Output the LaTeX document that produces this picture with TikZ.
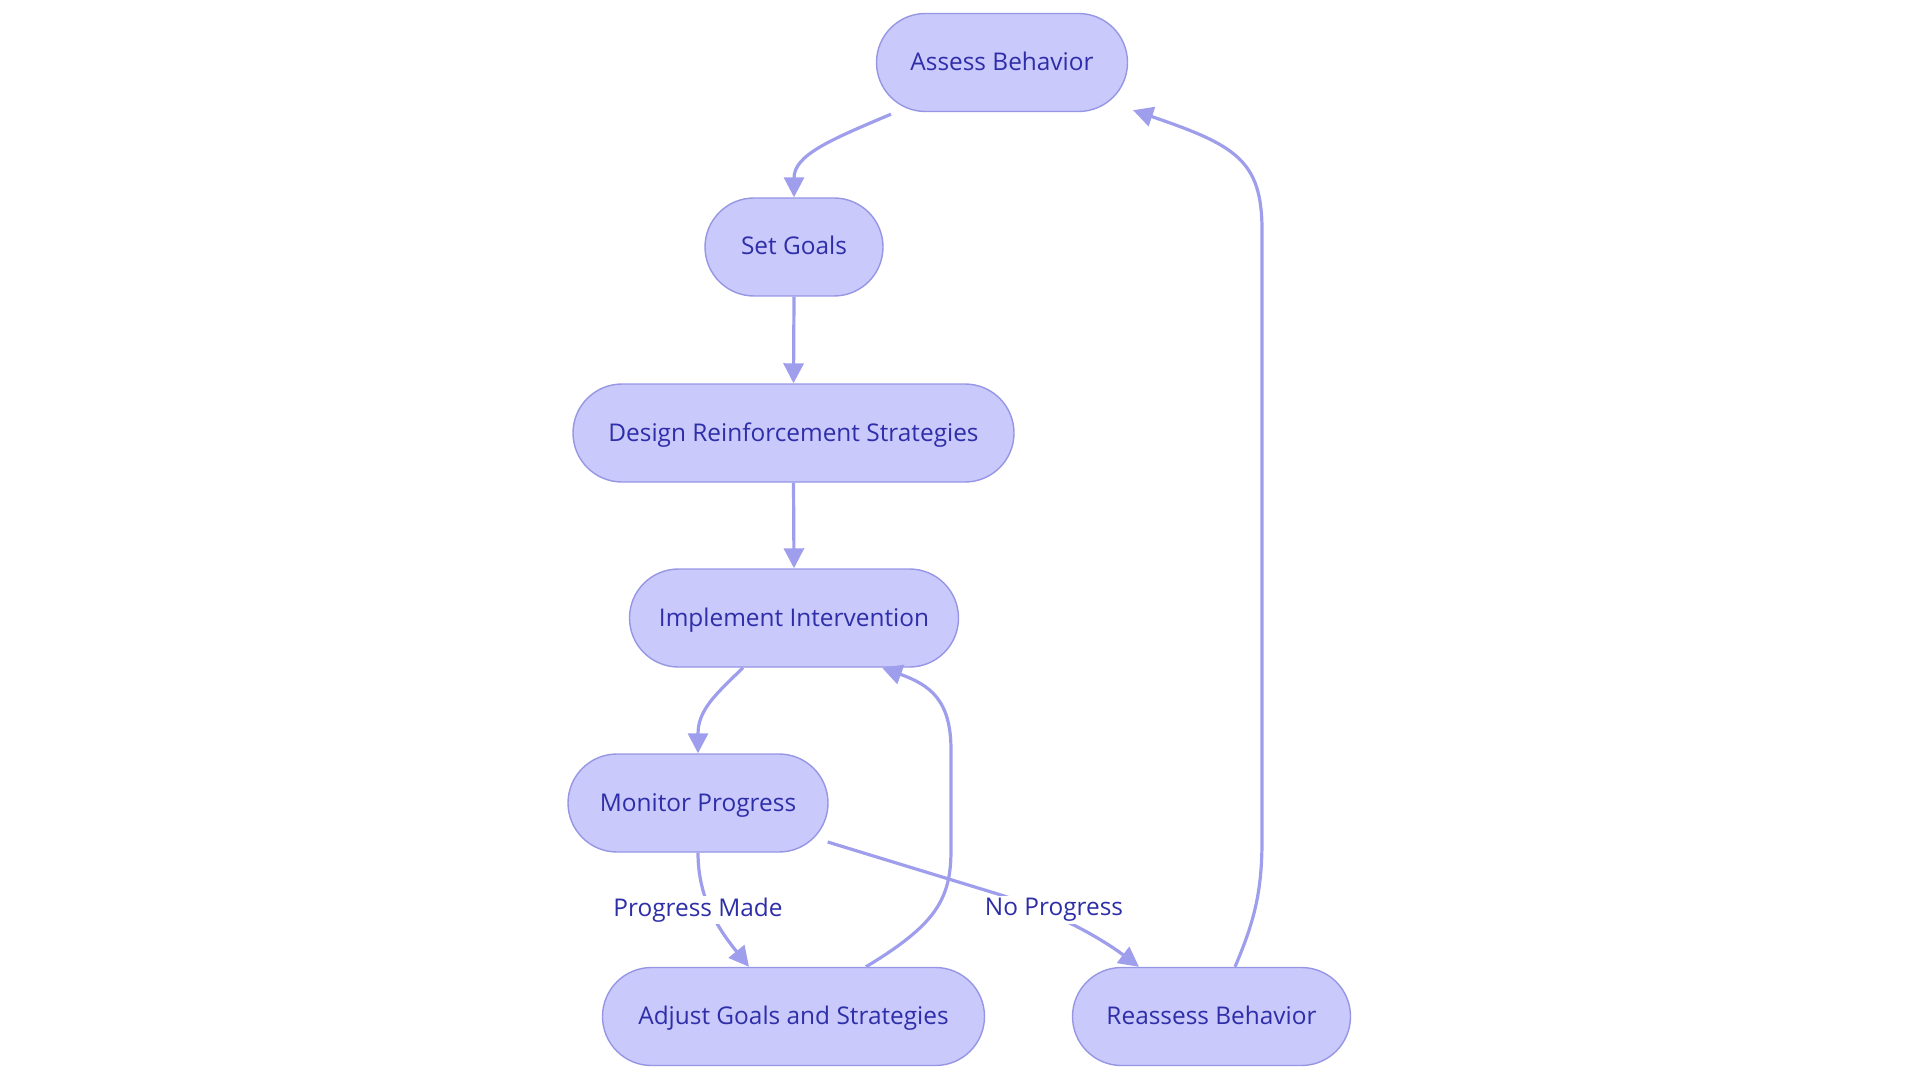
\documentclass[tikz,border=0pt]{standalone}
\usepackage{fontspec}
\setmainfont{Open Sans}
\usetikzlibrary{arrows.meta,calc}
\definecolor{nodefill}{RGB}{201,201,252}
\definecolor{nodedraw}{RGB}{150,150,228}
\definecolor{edgecol}{RGB}{158,158,236}
\definecolor{txtcol}{RGB}{46,46,168}
\tikzset{
  box/.style={draw=nodedraw, line width=0.7pt, fill=nodefill, rounded corners=24.5pt,
    minimum height=49pt, inner sep=0pt, text height=8.5pt, text depth=0.5pt,
    text=txtcol, font=\fontsize{12.2}{14}\selectfont},
  conn/.style={draw=edgecol, line width=1.6pt, -{Triangle[length=10pt,width=10pt]}},
  elabel/.style={fill=white, text=txtcol, inner sep=1pt, font=\fontsize{12.2}{14}\selectfont}
}
\begin{document}
\begin{tikzpicture}[x=0.5pt,y=-0.5pt]
\useasboundingbox (0,0) rectangle (1920,1080);
\node[box, minimum width=125.5pt] (assess) at (1002,62.5) {Assess Behavior};
\node[box, minimum width=89pt] (setg) at (794,247) {Set Goals};
\node[box, minimum width=220.5pt] (design) at (793.5,433) {Design Reinforcement Strategies};
\node[box, minimum width=164.5pt] (impl) at (794,618) {Implement Intervention};
\node[box, minimum width=130pt] (mon) at (698,803) {Monitor Progress};
\node[box, minimum width=191pt] (adj) at (793.5,1016.5) {Adjust Goals and Strategies};
\node[box, minimum width=139pt] (reas) at (1211.5,1016.5) {Reassess Behavior};

\coordinate (aStart) at ($(assess.south)+(-111,2)$);
\draw[conn] (aStart) .. controls (830,140) and (794,155) .. (setg.north);
\draw[conn] (setg.south) -- (design.north);
\draw[conn] (design.south) -- (impl.north);
\coordinate (iStart) at ($(impl.south)+(-51,0)$);
\draw[conn] (iStart) .. controls (715,695) and (698,710) .. (mon.north);

\coordinate (mStart) at (mon.south);
\coordinate (adjIn) at ($(adj.north)+(-44.5,0)$);
\draw[conn] (mStart) .. controls (698,895) and (715,925) .. (adjIn);
\node[elabel] (lpm) at (698,910) {Progress Made};

\coordinate (mRight) at ($(mon.east)+(-1,39)$);
\coordinate (reasIn) at ($(reas.north)+(-72.5,0)$);
\draw[conn] (mRight) -- (1001,895) .. controls (1070,918) and (1110,945) .. (reasIn);
\node[elabel] (lnp) at (1054,910) {No Progress};

\coordinate (adjOut) at ($(adj.north)+(72.5,0)$);
\coordinate (implIn) at ($(impl.south)+(88,0)$);
\draw[conn] (adjOut) .. controls (935,925) and (951,900) .. (951,850) -- (951,750) .. controls (951,700) and (930,685) .. (implIn);

\coordinate (reasOut) at ($(reas.north)+(23.5,0)$);
\coordinate (assessIn) at ($(assess.south)+(131,-2)$);
\draw[conn] (reasOut) .. controls (1255,920) and (1262,890) .. (1262,840) -- (1262,230) .. controls (1262,160) and (1235,145) .. (assessIn);
\end{tikzpicture}
\end{document}
